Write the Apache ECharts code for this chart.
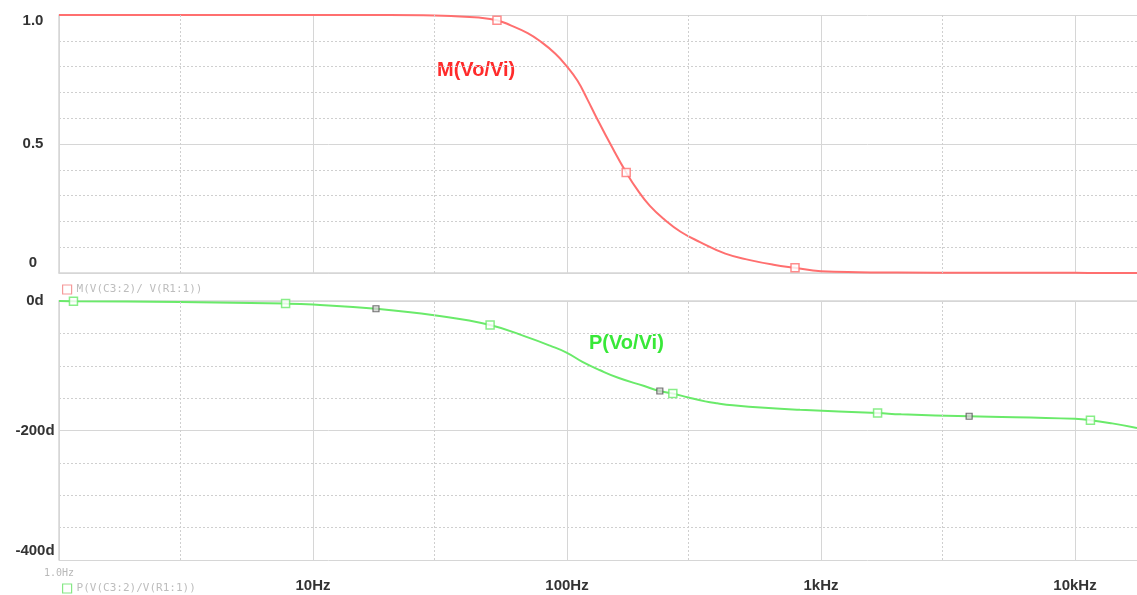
<!DOCTYPE html>
<html>
<head>
<meta charset="utf-8">
<script src="https://cdn.jsdelivr.net/npm/echarts@6/dist/echarts.min.js"></script>
<style>
  html, body { margin: 0; padding: 0; background: #fff; }
  #chart { width: 1137px; height: 595px; }
</style>
</head>
<body>
<div id="chart"></div>
<script>
// Frequency response of the filter: magnitude (top) and phase (bottom)
const magFreq   = [1, 3, 10, 20, 30, 35, 45, 53, 60, 70, 78, 90, 100, 110, 120, 131, 150, 171, 190, 212, 240, 280, 334, 420, 525, 650, 790, 1000, 1400, 2000, 4000, 10000, 17540];
const magValues = [1.0, 1.0, 1.0, 1.0, 0.998, 0.996, 0.99, 0.98, 0.96, 0.93, 0.90, 0.85, 0.80, 0.745, 0.675, 0.60, 0.49, 0.39, 0.32, 0.26, 0.21, 0.16, 0.12, 0.075, 0.05, 0.032, 0.02, 0.007, 0.003, 0.002, 0.001, 0.0005, 0.0003];

const phaseFreq   = [1, 1.14, 3, 7.8, 10, 17.7, 30, 49.8, 71, 85.7, 100, 115, 135, 160, 200, 232, 261, 300, 350, 390, 450, 600, 827, 1670, 2070, 3830, 10000, 11500, 14000, 17540];
const phaseValues = [0, -0.3, -1.5, -4, -5.5, -12, -22, -37, -57, -69, -80, -94, -107, -119, -131, -139, -143, -149, -155, -158, -161, -165, -168, -173, -175, -178, -182, -184, -189, -196];

// trace symbols
const magMarkFreq   = [53, 171, 790];
const magMarkValues = [0.98, 0.39, 0.02];
const phaseMarkFreq   = [1.14, 7.8, 49.8, 261, 1670, 11500];
const phaseMarkValues = [-0.3, -4, -37, -143, -173, -184];
const cursorFreq   = [17.7, 232, 3830];
const cursorValues = [-12, -139, -178];

const xTickLabels = ['1.0Hz', '10Hz', '100Hz', '1kHz', '10kHz'];
const xMinorGrid  = [3, 30, 300, 3000];
const magTraceName   = 'M(V(C3:2)/ V(R1:1))';
const phaseTraceName = 'P(V(C3:2)/V(R1:1))';

const RED = '#ff6f6f';
const GREEN = '#6aea6a';
const GRID_SOLID = '#d6d6d6';
const GRID_DOT = '#cfcfcf';
const LABEL_FONT = '"Liberation Sans", Arial, sans-serif';
const MONO_FONT = '"DejaVu Sans Mono", "Liberation Mono", monospace';

const pairs = (xs, ys) => xs.map((x, i) => [x, ys[i]]);

function xAxisFor(gridIndex, showLabels) {
  return {
    type: 'log', logBase: 10, gridIndex: gridIndex, min: 1, max: 17540,
    axisLine: { show: true, lineStyle: { color: GRID_SOLID, width: 1.5 } },
    axisTick: { show: false },
    splitLine: { show: true, lineStyle: { color: GRID_SOLID, width: 1 } },
    axisLabel: {
      show: showLabels,
      margin: 8,
      formatter: function (v) {
        const e = Math.log10(v);
        const k = Math.round(e);
        if (Math.abs(e - k) > 1e-6 || k < 0 || k >= xTickLabels.length) return '';
        return k === 0 ? '{s|' + xTickLabels[0] + '}' : '{n|' + xTickLabels[k] + '}';
      },
      rich: {
        n: { fontFamily: LABEL_FONT, fontSize: 15, fontWeight: 'bold', color: '#333', padding: [10, 0, 0, 0] },
        s: { fontFamily: MONO_FONT, fontSize: 10, color: '#b8b8b8' }
      }
    }
  };
}

// dotted verticals at 3, 30, 300, 3000 Hz
function minorGridSeries(xi, yi) {
  return {
    type: 'line', xAxisIndex: xi, yAxisIndex: yi, data: [], silent: true, z: 1,
    markLine: {
      silent: true, symbol: ['none', 'none'], animation: false,
      label: { show: false },
      lineStyle: { color: GRID_DOT, type: [2, 2], width: 1 },
      data: xMinorGrid.map(f => ({ xAxis: f }))
    }
  };
}

const chart = echarts.init(document.getElementById('chart'), null, { renderer: 'canvas' });

chart.setOption({
  animation: false,
  backgroundColor: '#fff',
  grid: [
    { left: 59, right: 0, top: 15, height: 258, containLabel: false, outerBoundsMode: 'none' },
    { left: 59, right: 0, top: 301, height: 259, containLabel: false, outerBoundsMode: 'none' }
  ],
  xAxis: [xAxisFor(0, false), xAxisFor(1, true)],
  yAxis: [
    {
      type: 'value', gridIndex: 0, min: 0, max: 1, interval: 0.5,
      axisLine: { show: true, lineStyle: { color: GRID_SOLID, width: 1.5 } },
      axisTick: { show: false },
      splitLine: { show: true, lineStyle: { color: GRID_SOLID } },
      minorTick: { show: false, splitNumber: 5 },
      minorSplitLine: { show: true, lineStyle: { color: GRID_DOT, type: [2, 2] } },
      axisLabel: {
        margin: 26, align: 'center',
        formatter: v => v === 1 ? '{t|1.0}' : (v === 0 ? '{b|0}' : '{m|0.5}'),
        rich: {
          t: { fontFamily: LABEL_FONT, fontSize: 15, fontWeight: 'bold', color: '#333', padding: [12, 0, 0, 0] },
          m: { fontFamily: LABEL_FONT, fontSize: 15, fontWeight: 'bold', color: '#333' },
          b: { fontFamily: LABEL_FONT, fontSize: 15, fontWeight: 'bold', color: '#333', padding: [0, 0, 20, 0] }
        }
      }
    },
    {
      type: 'value', gridIndex: 1, min: -400, max: 0, interval: 200,
      axisLine: { show: true, lineStyle: { color: GRID_SOLID, width: 1.5 } },
      axisTick: { show: false },
      splitLine: { show: true, lineStyle: { color: GRID_SOLID } },
      minorTick: { show: false, splitNumber: 4 },
      minorSplitLine: { show: true, lineStyle: { color: GRID_DOT, type: [2, 2] } },
      axisLabel: {
        margin: 24, align: 'center',
        formatter: v => v === -400 ? '{b|-400d}' : '{m|' + v + 'd}',
        rich: {
          m: { fontFamily: LABEL_FONT, fontSize: 15, fontWeight: 'bold', color: '#333' },
          b: { fontFamily: LABEL_FONT, fontSize: 15, fontWeight: 'bold', color: '#333', padding: [0, 0, 18, 0] }
        }
      }
    }
  ],
  legend: [
    {
      left: 57, top: 279, itemWidth: 9, itemHeight: 9, itemGap: 10, selectedMode: false,
      textStyle: { fontFamily: MONO_FONT, fontSize: 11, color: '#bdbdbd' },
      data: [{ name: magTraceName, icon: 'rect', itemStyle: { color: '#fff', borderColor: '#f59a9a', borderWidth: 1.2 } }]
    },
    {
      left: 57, top: 578, itemWidth: 9, itemHeight: 9, itemGap: 10, selectedMode: false,
      textStyle: { fontFamily: MONO_FONT, fontSize: 11, color: '#bdbdbd' },
      data: [{ name: phaseTraceName, icon: 'rect', itemStyle: { color: '#fff', borderColor: '#86e886', borderWidth: 1.2 } }]
    }
  ],
  graphic: [
    { type: 'text', left: 437, top: 60, style: { text: 'M(Vo/Vi)', fill: '#ff2b2b', font: 'bold 20px ' + LABEL_FONT } },
    { type: 'text', left: 589, top: 333, style: { text: 'P(Vo/Vi)', fill: '#38e838', font: 'bold 20px ' + LABEL_FONT } }
  ],
  series: [
    minorGridSeries(0, 0),
    minorGridSeries(1, 1),
    {
      name: magTraceName, type: 'line', xAxisIndex: 0, yAxisIndex: 0, z: 3,
      data: pairs(magFreq, magValues), showSymbol: false, smooth: 0.45,
      lineStyle: { color: RED, width: 2 }, itemStyle: { color: RED }
    },
    {
      name: 'mag-symbols', type: 'scatter', xAxisIndex: 0, yAxisIndex: 0, z: 4,
      data: pairs(magMarkFreq, magMarkValues), symbol: 'rect', symbolSize: 8,
      itemStyle: { color: '#fff', borderColor: RED, borderWidth: 1.5 }
    },
    {
      name: phaseTraceName, type: 'line', xAxisIndex: 1, yAxisIndex: 1, z: 3,
      data: pairs(phaseFreq, phaseValues), showSymbol: false, smooth: 0.45,
      lineStyle: { color: GREEN, width: 2 }, itemStyle: { color: GREEN }
    },
    {
      name: 'phase-symbols', type: 'scatter', xAxisIndex: 1, yAxisIndex: 1, z: 4,
      data: pairs(phaseMarkFreq, phaseMarkValues), symbol: 'rect', symbolSize: 8,
      itemStyle: { color: '#fff', borderColor: GREEN, borderWidth: 1.5 }
    },
    {
      name: 'cursor-symbols', type: 'scatter', xAxisIndex: 1, yAxisIndex: 1, z: 4,
      data: pairs(cursorFreq, cursorValues), symbol: 'rect', symbolSize: 6,
      itemStyle: { color: '#d0d0d0', borderColor: '#555', borderWidth: 1.2 }
    }
  ]
});
</script>
</body>
</html>
